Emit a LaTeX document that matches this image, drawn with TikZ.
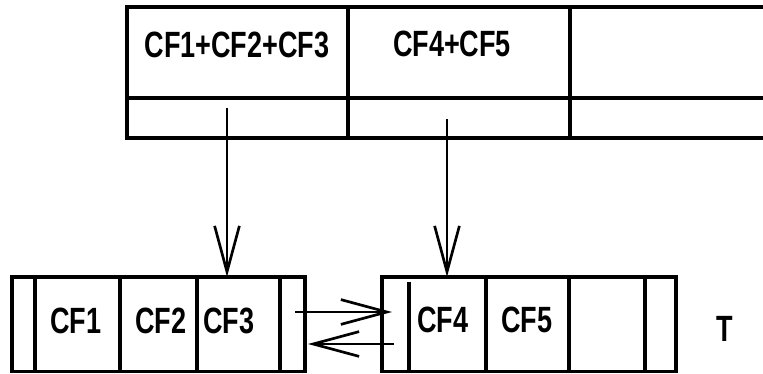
\documentclass[tikz,border=0pt]{standalone}
\usepackage{fontspec}
\setmainfont{Liberation Sans}[FakeStretch=0.74]
\usetikzlibrary{arrows.meta}

\tikzset{
  cell/.style={line width=2.2pt},
  flow/.style={line width=1.8pt,-{Straight Barb[length=1.15cm,width=0.62cm,line width=1.9pt]}},
  lbl/.style={font=\bfseries\fontsize{26}{30}\selectfont,inner sep=0pt}
}

\begin{document}
\begin{tikzpicture}[x=1cm,y=1cm]
  \useasboundingbox (0,0) rectangle (19.075,9.35);
  % upper frame, open to the right
  \draw[cell] (19.075,9.175) -- (3.175,9.175) -- (3.175,5.9) -- (19.075,5.9);
  \draw[cell] (3.175,6.9) -- (19.075,6.9);
  \draw[cell] (8.7,9.175) -- (8.7,5.9);
  \draw[cell] (14.25,9.175) -- (14.25,5.9);
  \node[lbl] (sumA) at (5.925,8.225) {CF1+CF2+CF3};
  \node[lbl] (sumB) at (11.3,8.24) {CF4+CF5};
  % lower left frame
  \draw[cell] (0.3,0.06) rectangle (7.625,2.425);
  \foreach \xx in {0.875,3.0,4.925,7.0}
    \draw[cell] (\xx,0.06) -- (\xx,2.425);
  \node[lbl] (cfA) at (1.9,1.325) {CF1};
  \node[lbl] (cfB) at (4.025,1.325) {CF2};
  \node[lbl] (cfC) at (5.725,1.325) {CF3};
  % lower right frame
  \draw[cell] (9.55,0.06) rectangle (16.9,2.425);
  \draw[cell] (10.225,0.06) -- (10.225,2.3);
  \foreach \xx in {12.15,14.225,16.125}
    \draw[cell] (\xx,0.06) -- (\xx,2.425);
  \node[lbl] (cfD) at (11.075,1.35) {CF4};
  \node[lbl] (cfE) at (13.175,1.35) {CF5};
  \node[lbl] (tt) at (18.125,1.125) {T};
  % arrows
  \coordinate (srcA) at (5.675,6.65);
  \coordinate (dstA) at (5.675,2.425);
  \coordinate (srcB) at (11.175,6.375);
  \coordinate (dstB) at (11.175,2.425);
  \coordinate (outR) at (7.375,1.55);
  \coordinate (inR) at (9.8,1.55);
  \coordinate (outL) at (9.85,0.75);
  \coordinate (inL) at (7.7,0.75);
  \draw[flow] (srcA) -- (dstA);
  \draw[flow] (srcB) -- (dstB);
  \draw[flow] (outR) -- (inR);
  \draw[flow] (outL) -- (inL);
\end{tikzpicture}
\end{document}
